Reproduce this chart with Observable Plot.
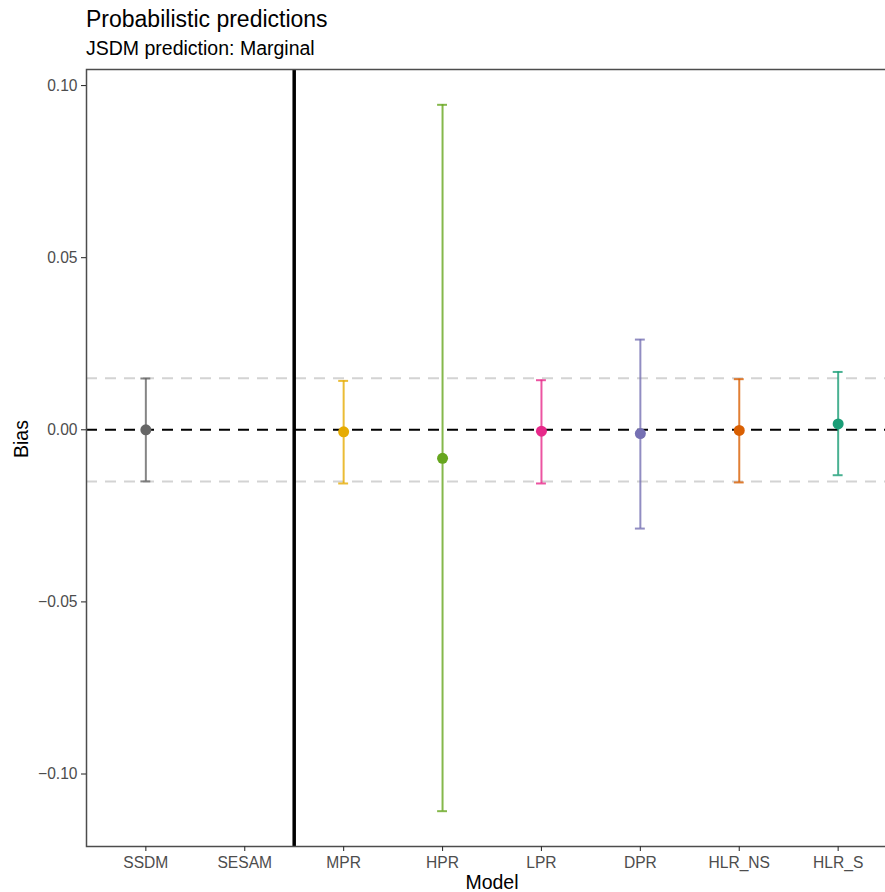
<!DOCTYPE html>
<html><head><meta charset="utf-8">
<script src="https://cdn.jsdelivr.net/npm/d3@7"></script>
<script src="https://cdn.jsdelivr.net/npm/@observablehq/plot@0.6"></script>
<style>
html,body{margin:0;padding:0;background:#fff;overflow:hidden;}
#wrap{position:relative;width:885px;height:892px;font-family:"Liberation Sans",Arial,sans-serif;}
#hdr{position:relative;height:60px;}
#title{position:absolute;left:86px;top:7.5px;font-size:23px;line-height:23px;color:#000;white-space:nowrap;}
#subtitle{position:absolute;left:86px;top:38.5px;font-size:19.5px;line-height:19.5px;color:#000;white-space:nowrap;}
#chart svg{overflow:hidden !important;}
</style></head><body>
<div id="wrap"><div id="hdr"><div id="title">Probabilistic predictions</div><div id="subtitle">JSDM prediction: Marginal</div></div><div id="chart"></div></div>
<script>
const models = ["SSDM","SESAM","MPR","HPR","LPR","DPR","HLR_NS","HLR_S"];
const pointModels = ["SSDM","MPR","HPR","LPR","DPR","HLR_NS","HLR_S"];
const bias  = [0.0000,-0.0006,-0.0083,-0.0004,-0.0011,-0.0002,0.0017];
const lower = [-0.0150,-0.0156,-0.1108,-0.0156,-0.0287,-0.0153,-0.0132];
const upper = [0.0149,0.0142,0.0944,0.0144,0.0262,0.0147,0.0168];
const colors = ["#666666","#E6AB02","#66A61E","#E7298A","#7570B3","#D95F02","#1B9E77"];
const yTicks = [-0.10,-0.05,0.00,0.05,0.10];
const referenceLines = [-0.015, 0.015];
const zeroLine = [0];
const separatorAfter = "SESAM";

const capHalf = 0.05;
const rows = pointModels.map((m, i) => ({
  model: m, pos: models.indexOf(m) + 1,
  bias: bias[i], lower: lower[i], upper: upper[i], color: colors[i]
}));
const allY = [...lower, ...upper, ...referenceLines, ...zeroLine];
const [yMin, yMax] = d3.extent(allY);
const yPad = 0.05 * (yMax - yMin);

const chart = Plot.plot({
  width: 885, height: 832,
  marginLeft: 86, marginRight: -12, marginTop: 9, marginBottom: 46,
  style: {fontFamily: "Liberation Sans, Arial, sans-serif", background: "white", overflow: "hidden"},
  x: {domain: [0.4, models.length + 0.6]},
  y: {domain: [yMin - yPad, yMax + yPad]},
  color: {type: "identity"},
  marks: [
    Plot.ruleY(referenceLines, {stroke: "#D3D3D3", strokeWidth: 2, strokeDasharray: "11,8"}),
    Plot.ruleY(zeroLine, {stroke: "black", strokeWidth: 2, strokeDasharray: "11,8"}),
    Plot.ruleX([models.indexOf(separatorAfter) + 1.5], {stroke: "black", strokeWidth: 3.5}),
    Plot.ruleX(rows, {x: "pos", y1: "lower", y2: "upper", stroke: "color", strokeWidth: 2, strokeOpacity: 0.8}),
    Plot.ruleY(rows, {y: "upper", x1: d => d.pos - capHalf, x2: d => d.pos + capHalf, stroke: "color", strokeWidth: 2, strokeOpacity: 0.8}),
    Plot.ruleY(rows, {y: "lower", x1: d => d.pos - capHalf, x2: d => d.pos + capHalf, stroke: "color", strokeWidth: 2, strokeOpacity: 0.8}),
    Plot.dot(rows, {x: "pos", y: "bias", r: 5.5, fill: "color", stroke: null}),
    Plot.frame({stroke: "#4D4D4D", strokeWidth: 1.5}),
    Plot.axisY({ticks: yTicks, tickFormat: d3.format(".2f"), tickSize: 5, tickPadding: 4, fontSize: 15.6, fill: "#4D4D4D", stroke: "#333333", strokeWidth: 1.1, label: null}),
    Plot.axisX({ticks: d3.range(1, models.length + 1), tickFormat: i => models[i - 1], tickSize: 5, tickPadding: 5, fontSize: 15.6, fill: "#4D4D4D", stroke: "#333333", strokeWidth: 1.1, label: null}),
    Plot.text(["Model"], {frameAnchor: "bottom", lineAnchor: "bottom", dy: 42, fontSize: 19.5, fill: "black"}),
    Plot.text(["Bias"], {frameAnchor: "left", lineAnchor: "bottom", rotate: -90, dx: -59, fontSize: 19.5, fill: "black"})
  ]
});
document.getElementById("chart").appendChild(chart);
</script>
</body></html>
